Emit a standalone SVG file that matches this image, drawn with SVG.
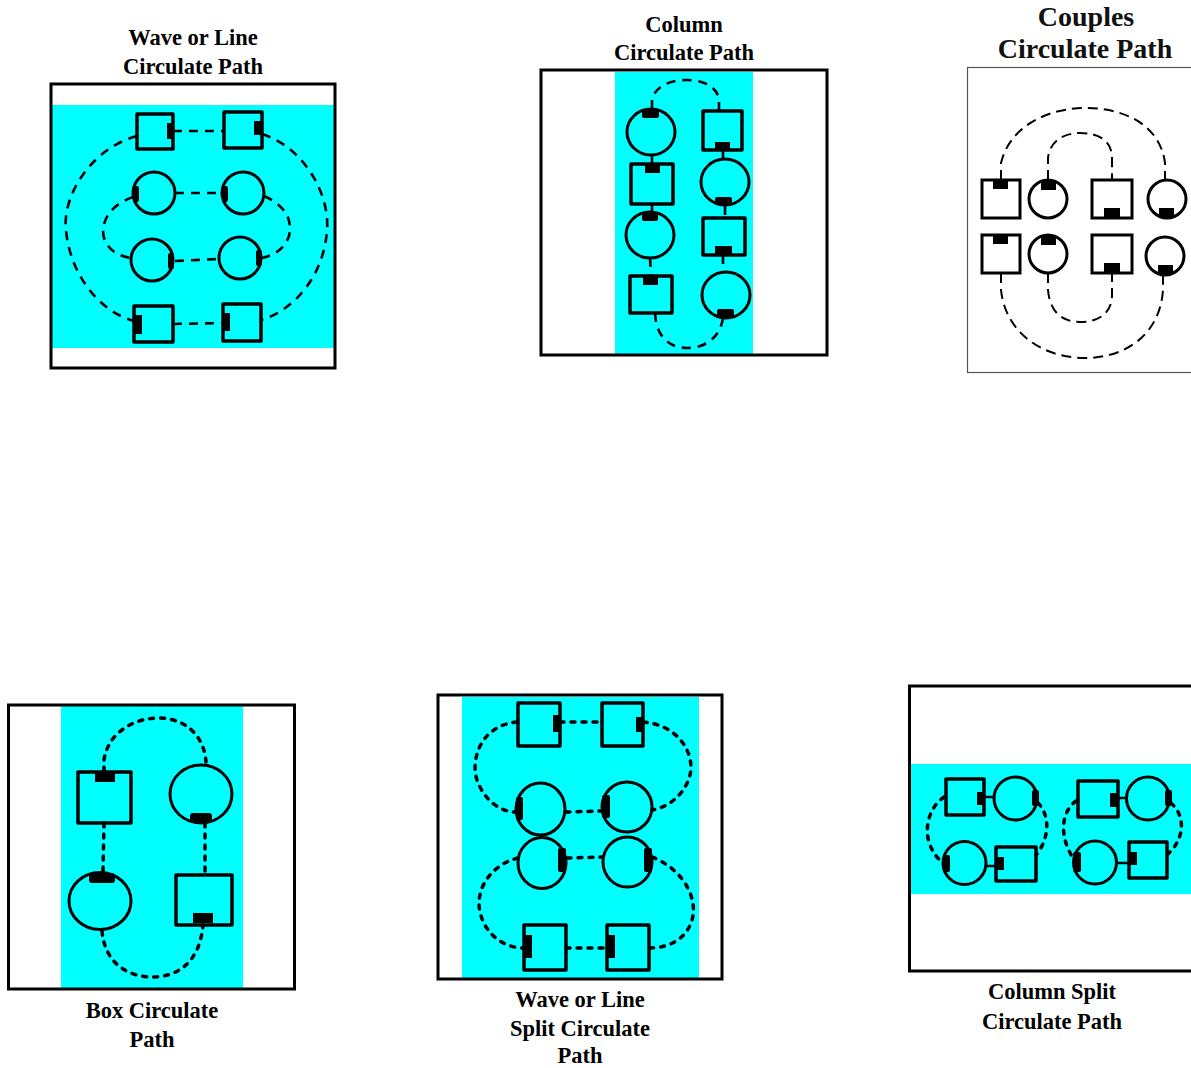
<svg xmlns="http://www.w3.org/2000/svg" width="1191" height="1068" viewBox="0 0 1191 1068">
<style>
.bg{fill:#fff}
.frame{fill:none;stroke:#000;stroke-width:3}
.frame2{fill:none;stroke:#555;stroke-width:1.2}
.cy{fill:#00ffff}
.sq{fill:none;stroke:#000;stroke-width:3.5;stroke-linejoin:round}
.ci{fill:none;stroke:#000;stroke-width:3}
.sq2{fill:#fff;stroke:#000;stroke-width:3}
.mk{fill:#000}
.dash{fill:none;stroke:#000;stroke-width:2.6;stroke-dasharray:9 7}
.dash2{fill:none;stroke:#000;stroke-width:2;stroke-dasharray:10 6}
.dot{fill:none;stroke:#000;stroke-width:3.5;stroke-dasharray:4 7;stroke-linecap:round}
.solid{fill:none;stroke:#000;stroke-width:2.5}
.t{font-family:"Liberation Serif","Times New Roman",serif;font-weight:bold;font-size:22.5px;text-anchor:middle;fill:#000}
.t2{font-family:"Liberation Serif","Times New Roman",serif;font-weight:bold;font-size:28px;text-anchor:middle;fill:#111}
</style>
<rect class="bg" x="0" y="0" width="1191" height="1068"/>

<!-- Panel 1: Wave or Line Circulate Path -->
<g id="panel-wave-line">
  <rect class="cy" x="52" y="105" width="282" height="243"/>
  <rect class="frame" x="51" y="84" width="284" height="284"/>
  <text class="t" x="193" y="45">Wave or Line</text>
  <text class="t" x="193" y="74">Circulate Path</text>
  <g class="connectors">
    <path class="dash" d="M173,131 L224,131"/>
    <path class="dash" d="M175,193 L222,193"/>
    <path class="dash" d="M175,261 L219,259"/>
    <path class="dash" d="M173,324 L223,323"/>
    <path class="dash" d="M137,136 C92,148 62,195 66,230 C70,275 100,312 134,321"/>
    <path class="dash" d="M262,134 C305,148 330,195 327,230 C324,275 295,310 261,320"/>
    <path class="dash" d="M133,197 C110,205 100,222 104,238 C108,250 118,256 131,258"/>
    <path class="dash" d="M264,196 C285,205 293,220 289,236 C285,248 275,255 262,258"/>
  </g>
  <g id="w-sq1"><rect class="sq" x="137" y="114" width="36" height="35"/><rect class="mk" x="167" y="123" width="6" height="16"/></g>
  <g id="w-sq2"><rect class="sq" x="224" y="112" width="38" height="36"/><rect class="mk" x="254" y="121" width="7" height="14"/></g>
  <g id="w-ci1"><circle class="ci" cx="154" cy="193" r="21"/><rect class="mk" x="133" y="186" width="6" height="16" rx="2"/></g>
  <g id="w-ci2"><circle class="ci" cx="243" cy="193" r="21"/><rect class="mk" x="222" y="186" width="6" height="16" rx="2"/></g>
  <g id="w-ci3"><circle class="ci" cx="152" cy="260" r="21"/><rect class="mk" x="168" y="253" width="6" height="16" rx="2"/></g>
  <g id="w-ci4"><circle class="ci" cx="240" cy="258" r="21"/><rect class="mk" x="256" y="250" width="6" height="16" rx="2"/></g>
  <g id="w-sq3"><rect class="sq" x="134" y="306" width="39" height="36"/><rect class="mk" x="135" y="315" width="7" height="19"/></g>
  <g id="w-sq4"><rect class="sq" x="223" y="304" width="38" height="37"/><rect class="mk" x="224" y="313" width="6" height="18"/></g>
</g>

<!-- Panel 2: Column Circulate Path -->
<g id="panel-column">
  <rect class="cy" x="615" y="72" width="138" height="282"/>
  <rect class="frame" x="541" y="70" width="286" height="285"/>
  <text class="t" x="684" y="32">Column</text>
  <text class="t" x="684" y="60">Circulate Path</text>
  <g class="connectors">
    <path class="dash" d="M652,109 L652,100 C655,86 670,80 687,80 C705,80 718,88 719,100 L719,111"/>
    <path class="dash" d="M652,155 L652,164"/>
    <path class="dash" d="M652,204 L652,212"/>
    <path class="dash" d="M650,258 L651,276"/>
    <path class="dash" d="M655,313 L656,322 C660,340 672,348 687,348 C705,348 720,338 723,318"/>
    <path class="dash" d="M723,150 L723,158"/>
    <path class="dash" d="M725,206 L725,218"/>
    <path class="dash" d="M723,255 L723,271"/>
  </g>
  <g id="c-n1"><ellipse class="ci" cx="651" cy="132" rx="24" ry="23"/><rect class="mk" x="642" y="110" width="17" height="8" rx="2"/></g>
  <g id="c-n2"><rect class="sq" x="631" y="164" width="42" height="40"/><rect class="mk" x="645" y="165" width="15" height="8"/></g>
  <g id="c-n3"><ellipse class="ci" cx="650" cy="235" rx="24" ry="23"/><rect class="mk" x="642" y="213" width="16" height="8" rx="2"/></g>
  <g id="c-n4"><rect class="sq" x="630" y="276" width="42" height="37"/><rect class="mk" x="643" y="277" width="15" height="8"/></g>
  <g id="c-n5"><rect class="sq" x="703" y="111" width="39" height="39"/><rect class="mk" x="715" y="142" width="15" height="7"/></g>
  <g id="c-n6"><ellipse class="ci" cx="725" cy="182" rx="24" ry="23"/><rect class="mk" x="715" y="197" width="17" height="8" rx="2"/></g>
  <g id="c-n7"><rect class="sq" x="703" y="218" width="42" height="37"/><rect class="mk" x="715" y="246" width="17" height="8"/></g>
  <g id="c-n8"><ellipse class="ci" cx="726" cy="295" rx="24" ry="23"/><rect class="mk" x="717" y="309" width="17" height="9" rx="2"/></g>
</g>

<!-- Panel 3: Couples Circulate Path -->
<g id="panel-couples">
  <rect class="frame2" x="967.5" y="67.5" width="230" height="305"/>
  <text class="t2" x="1086" y="26">Couples</text>
  <text class="t2" x="1085" y="58">Circulate Path</text>
  <g class="connectors">
    <path class="dash2" d="M1001,180 L1001,163 C1010,125 1050,108 1085,108 C1125,108 1160,125 1165,163 L1165,180"/>
    <path class="dash2" d="M1048,180 L1048,158 C1050,140 1065,133 1080,133 C1098,133 1112,140 1112,158 L1112,180"/>
    <path class="dash2" d="M1001,273 L1001,290 C1006,335 1045,358 1085,358 C1125,358 1160,335 1163,290 L1163,273"/>
    <path class="dash2" d="M1048,273 L1048,290 C1050,312 1062,322 1080,322 C1100,322 1112,312 1112,295 L1112,273"/>
  </g>
  <g id="cp-n1"><rect class="sq2" x="982" y="180" width="38" height="38"/><rect class="mk" x="993" y="180" width="15" height="9"/></g>
  <g id="cp-n2"><circle class="sq2" cx="1048" cy="199" r="19"/><rect class="mk" x="1041" y="181" width="15" height="9"/></g>
  <g id="cp-n3"><rect class="sq2" x="1092" y="180" width="40" height="38"/><rect class="mk" x="1104" y="208" width="16" height="10"/></g>
  <g id="cp-n4"><circle class="sq2" cx="1167" cy="199" r="19"/><rect class="mk" x="1159" y="208" width="15" height="10"/></g>
  <g id="cp-n5"><rect class="sq2" x="982" y="235" width="38" height="38"/><rect class="mk" x="993" y="235" width="15" height="9"/></g>
  <g id="cp-n6"><circle class="sq2" cx="1048" cy="254" r="19"/><rect class="mk" x="1041" y="236" width="15" height="9"/></g>
  <g id="cp-n7"><rect class="sq2" x="1092" y="235" width="40" height="38"/><rect class="mk" x="1104" y="263" width="16" height="10"/></g>
  <g id="cp-n8"><circle class="sq2" cx="1165" cy="256" r="19"/><rect class="mk" x="1158" y="265" width="15" height="10"/></g>
</g>

<!-- Panel 4: Box Circulate Path -->
<g id="panel-box">
  <rect class="cy" x="61" y="705" width="182" height="283"/>
  <rect class="frame" x="8.5" y="705" width="286" height="284"/>
  <text class="t" x="152" y="1018">Box Circulate</text>
  <text class="t" x="152" y="1047">Path</text>
  <g class="connectors">
    <path class="dot" d="M104,771 L104,760 C108,732 135,718 158,718 C185,718 204,735 206,762"/>
    <path class="dot" d="M104,823 L103,872"/>
    <path class="dot" d="M205,823 L205,875"/>
    <path class="dot" d="M102,931 C105,965 130,977 152,977 C180,977 200,960 203,925"/>
  </g>
  <g id="b-n1"><rect class="sq" x="78" y="772" width="53" height="51"/><rect class="mk" x="95" y="772" width="20" height="10"/></g>
  <g id="b-n2"><ellipse class="ci" cx="201" cy="794" rx="31" ry="29"/><rect class="mk" x="190" y="813" width="22" height="10" rx="3"/></g>
  <g id="b-n3"><ellipse class="ci" cx="100" cy="901" rx="31" ry="28.5"/><rect class="mk" x="89" y="873" width="26" height="10" rx="3"/></g>
  <g id="b-n4"><rect class="sq" x="176" y="875" width="56" height="50"/><rect class="mk" x="193" y="913" width="20" height="10"/></g>
</g>

<!-- Panel 5: Wave or Line Split Circulate Path -->
<g id="panel-wave-split">
  <rect class="cy" x="462" y="697" width="237" height="281"/>
  <rect class="frame" x="438" y="695" width="284" height="284"/>
  <text class="t" x="580" y="1007">Wave or Line</text>
  <text class="t" x="580" y="1036">Split Circulate</text>
  <text class="t" x="580" y="1063">Path</text>
  <g class="connectors">
    <path class="dot" d="M560,722 L602,722"/>
    <path class="dot" d="M566,812 L602,811"/>
    <path class="dot" d="M567,858 L603,857"/>
    <path class="dot" d="M566,948 L606,948"/>
    <path class="dot" d="M517,722 C482,725 470,758 477,780 C484,800 500,812 516,812"/>
    <path class="dot" d="M643,722 C680,725 695,755 690,775 C685,795 667,808 652,810"/>
    <path class="dot" d="M518,858 C490,865 475,890 480,912 C485,935 505,948 523,948"/>
    <path class="dot" d="M652,857 C685,870 698,900 692,920 C686,940 668,948 649,948"/>
  </g>
  <g id="s-n1"><rect class="sq" x="518" y="703" width="42" height="43"/><rect class="mk" x="553" y="715" width="7" height="17"/></g>
  <g id="s-n2"><rect class="sq" x="602" y="703" width="41" height="43"/><rect class="mk" x="636" y="717" width="7" height="15"/></g>
  <g id="s-n3"><ellipse class="ci" cx="540.5" cy="809" rx="24.5" ry="26"/><rect class="mk" x="516" y="797" width="7" height="23" rx="2"/></g>
  <g id="s-n4"><ellipse class="ci" cx="627" cy="807" rx="25" ry="25"/><rect class="mk" x="602" y="795" width="8" height="23" rx="2"/></g>
  <g id="s-n5"><ellipse class="ci" cx="542" cy="863" rx="24" ry="25.5"/><rect class="mk" x="558" y="848" width="8" height="24" rx="2"/></g>
  <g id="s-n6"><ellipse class="ci" cx="627.5" cy="862" rx="24.5" ry="25"/><rect class="mk" x="644" y="848" width="8" height="24" rx="2"/></g>
  <g id="s-n7"><rect class="sq" x="524" y="925" width="42" height="45"/><rect class="mk" x="524" y="935" width="8" height="23"/></g>
  <g id="s-n8"><rect class="sq" x="607" y="925" width="42" height="45"/><rect class="mk" x="607" y="935" width="8" height="23"/></g>
</g>

<!-- Panel 6: Column Split Circulate Path -->
<g id="panel-column-split">
  <rect class="cy" x="911" y="764" width="280" height="130"/>
  <rect class="frame" x="909.5" y="686" width="300" height="285"/>
  <text class="t" x="1052" y="999">Column Split</text>
  <text class="t" x="1052" y="1029">Circulate Path</text>
  <g class="connectors">
    <path class="solid" d="M984,797 L994,797"/>
    <path class="solid" d="M986,866 L996,866"/>
    <path class="solid" d="M1118,798 L1127,798"/>
    <path class="solid" d="M1117,863 L1129,863"/>
    <path class="dot" d="M944,797 C928,808 924,830 930,845 C934,855 939,860 944,863"/>
    <path class="dot" d="M1038,803 C1050,815 1050,838 1036,855"/>
    <path class="dot" d="M1076,801 C1061,812 1059,836 1073,858"/>
    <path class="dot" d="M1171,803 C1185,815 1186,838 1167,855"/>
  </g>
  <g id="cs-n1"><rect class="sq" x="946" y="779" width="38" height="36"/><rect class="mk" x="977" y="792" width="7" height="13"/></g>
  <g id="cs-n2"><circle class="ci" cx="1015.5" cy="798.5" r="21.5"/><rect class="mk" x="1032" y="790" width="7" height="16" rx="2"/></g>
  <g id="cs-n3"><circle class="ci" cx="964.5" cy="863" r="21.5"/><rect class="mk" x="943" y="855" width="7" height="17" rx="2"/></g>
  <g id="cs-n4"><rect class="sq" x="996" y="847" width="40" height="34"/><rect class="mk" x="997" y="857" width="7" height="13"/></g>
  <g id="cs-n5"><rect class="sq" x="1078" y="781" width="40" height="36"/><rect class="mk" x="1110" y="793" width="7" height="14"/></g>
  <g id="cs-n6"><circle class="ci" cx="1148" cy="798.5" r="21.5"/><rect class="mk" x="1165" y="790" width="7" height="16" rx="2"/></g>
  <g id="cs-n7"><circle class="ci" cx="1095" cy="862.5" r="21.5"/><rect class="mk" x="1073" y="852" width="8" height="20" rx="2"/></g>
  <g id="cs-n8"><rect class="sq" x="1129" y="842" width="38" height="36"/><rect class="mk" x="1129" y="852" width="8" height="13"/></g>
</g>
</svg>
